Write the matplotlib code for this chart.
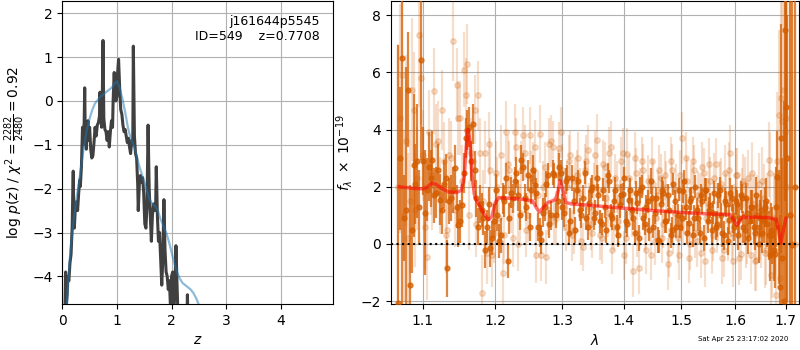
import numpy as np
import matplotlib
matplotlib.use("Agg")
import matplotlib.pyplot as plt
from matplotlib.ticker import NullLocator

# ---------------- data ----------------
# left: redshift probability
pz_z = [0.04, 0.06, 0.07, 0.09, 0.10, 0.12, 0.14, 0.16, 0.18, 0.19,
        0.20, 0.21, 0.22, 0.24, 0.26, 0.28, 0.30, 0.32, 0.33, 0.35,
        0.37, 0.38, 0.40, 0.41, 0.42, 0.44, 0.45, 0.47, 0.48, 0.50,
        0.52, 0.54, 0.56, 0.58, 0.60, 0.62, 0.64, 0.66, 0.68, 0.69,
        0.70, 0.72, 0.73, 0.745, 0.76, 0.78, 0.80, 0.82, 0.84, 0.86,
        0.88, 0.90, 0.92, 0.93, 0.95, 0.96, 0.98, 1.00, 1.01, 1.03,
        1.05, 1.07, 1.09, 1.11, 1.13, 1.15, 1.17, 1.19, 1.21, 1.23,
        1.25, 1.27, 1.29, 1.30, 1.32, 1.34, 1.36, 1.38, 1.39, 1.41,
        1.43, 1.45, 1.47, 1.49, 1.51, 1.53, 1.55, 1.57, 1.59, 1.61,
        1.63, 1.65, 1.67, 1.69, 1.71, 1.72, 1.74, 1.76, 1.78, 1.80,
        1.82, 1.84, 1.86, 1.88, 1.90, 1.92, 1.94, 1.96, 1.98, 2.00,
        2.02, 2.04, 2.06, 2.08, 2.10, 2.12, 2.20, 2.28, 2.29, 2.30,
        2.40, 2.60, 3.00, 4.00, 4.96]
pz_logp = [-5.5, -3.9, -4.7, -4.4, -4.0, -4.1, -3.7, -3.5, -2.9, -2.2,
           -1.6, -2.5, -2.9, -2.4, -2.3, -2.5, -2.1, -1.8, -1.95, -1.5,
           -0.6, -1.0, -0.5, 0.3, -0.8, -1.1, -0.7, -0.45, -0.9, -0.6,
           -1.1, -1.3, -1.25, -0.95, -0.6, -0.8, -0.55, -0.5, -0.35, 0.2,
           -0.2, -0.6, -0.1, 1.38, -0.4, -0.65, -0.7, -0.9, -0.7, -1.05,
           -0.7, -0.45, -0.6, 0.0, 0.65, 0.3, 0.0, 0.1, 0.6, 0.95,
           0.3, -0.2, -0.3, -0.55, -0.7, -0.65, -0.8, -0.95, -0.85, -1.05,
           -1.2, -0.9, -1.0, 1.25, -0.8, -1.2, -1.3, -1.9, -2.5, -1.9,
           -1.7, -1.85, -1.75, -2.1, -2.8, -2.9, -2.4, -0.55, -2.0, -2.6,
           -3.2, -2.6, -2.35, -2.5, -2.3, -1.5, -2.6, -3.2, -3.0, -3.6,
           -4.2, -3.6, -2.25, -3.4, -3.9, -4.0, -4.3, -4.1, -4.7, -4.0,
           -3.9, -4.8, -4.4, -3.3, -4.2, -5.0, -6.0, -5.0, -4.42, -5.0,
           -6.5, -7.5, -9.0, -12.0, -14.0]

smooth_z = [0.07, 0.10, 0.15, 0.20, 0.25, 0.30, 0.35, 0.40, 0.45, 0.50,
            0.55, 0.60, 0.70, 0.80, 0.90, 0.95, 1.00, 1.05, 1.10, 1.15,
            1.20, 1.25, 1.30, 1.35, 1.40, 1.45, 1.50, 1.55, 1.60, 1.65,
            1.70, 1.75, 1.80, 1.85, 1.90, 1.95, 2.00, 2.05, 2.10, 2.15,
            2.20, 2.25, 2.30, 2.35, 2.40, 2.45, 2.50, 2.60, 2.80]
smooth_logp = [-5.0, -4.3, -3.4, -2.8, -2.3, -1.9, -1.45, -1.0, -0.65, -0.4,
               -0.2, -0.05, 0.1, 0.2, 0.3, 0.38, 0.45, 0.3, 0.05, -0.25,
               -0.6, -0.85, -1.0, -1.2, -1.45, -1.65, -1.85, -2.05, -2.25, -2.35,
               -2.4, -2.5, -2.7, -2.85, -3.0, -3.2, -3.45, -3.7, -3.9, -4.05,
               -4.15, -4.2, -4.25, -4.3, -4.38, -4.5, -4.65, -5.0, -5.8]

# right: spectrum wavelength grids (two interleaved beams)
wave_a = [1.068, 1.073, 1.078, 1.083, 1.088, 1.093, 1.098, 1.103, 1.108, 1.113,
          1.118, 1.123, 1.128, 1.133, 1.138, 1.143, 1.148, 1.153, 1.158, 1.163,
          1.168, 1.173, 1.178, 1.183, 1.188, 1.193, 1.198, 1.203, 1.208, 1.213,
          1.218, 1.223, 1.228, 1.233, 1.238, 1.243, 1.248, 1.253, 1.258, 1.263,
          1.268, 1.273, 1.278, 1.283, 1.288, 1.293, 1.298, 1.303, 1.308, 1.313,
          1.318, 1.323, 1.328, 1.333, 1.338, 1.343, 1.348, 1.353, 1.358, 1.363,
          1.368, 1.373, 1.378, 1.383, 1.388, 1.393, 1.398, 1.403, 1.408, 1.413,
          1.418, 1.423, 1.428, 1.433, 1.438, 1.443, 1.448, 1.453, 1.458, 1.463,
          1.468, 1.473, 1.478, 1.483, 1.488, 1.493, 1.498, 1.503, 1.508, 1.513,
          1.518, 1.523, 1.528, 1.533, 1.538, 1.543, 1.548, 1.553, 1.558, 1.563,
          1.568, 1.573, 1.578, 1.583, 1.588, 1.593, 1.598, 1.603, 1.608, 1.613,
          1.618, 1.623, 1.628, 1.633, 1.638, 1.643, 1.648, 1.653, 1.658, 1.663,
          1.668, 1.673, 1.678, 1.683, 1.688, 1.693, 1.698, 1.703, 1.708, 1.713,
          1.718]
wave_b = [1.0705, 1.0755, 1.0805, 1.0855, 1.0905, 1.0955, 1.1005, 1.1055, 1.1105, 1.1155,
          1.1205, 1.1255, 1.1305, 1.1355, 1.1405, 1.1455, 1.1505, 1.1555, 1.1605, 1.1655,
          1.1705, 1.1755, 1.1805, 1.1855, 1.1905, 1.1955, 1.2005, 1.2055, 1.2105, 1.2155,
          1.2205, 1.2255, 1.2305, 1.2355, 1.2405, 1.2455, 1.2505, 1.2555, 1.2605, 1.2655,
          1.2705, 1.2755, 1.2805, 1.2855, 1.2905, 1.2955, 1.3005, 1.3055, 1.3105, 1.3155,
          1.3205, 1.3255, 1.3305, 1.3355, 1.3405, 1.3455, 1.3505, 1.3555, 1.3605, 1.3655,
          1.3705, 1.3755, 1.3805, 1.3855, 1.3905, 1.3955, 1.4005, 1.4055, 1.4105, 1.4155,
          1.4205, 1.4255, 1.4305, 1.4355, 1.4405, 1.4455, 1.4505, 1.4555, 1.4605, 1.4655,
          1.4705, 1.4755, 1.4805, 1.4855, 1.4905, 1.4955, 1.5005, 1.5055, 1.5105, 1.5155,
          1.5205, 1.5255, 1.5305, 1.5355, 1.5405, 1.5455, 1.5505, 1.5555, 1.5605, 1.5655,
          1.5705, 1.5755, 1.5805, 1.5855, 1.5905, 1.5955, 1.6005, 1.6055, 1.6105, 1.6155,
          1.6205, 1.6255, 1.6305, 1.6355, 1.6405, 1.6455, 1.6505, 1.6555, 1.6605, 1.6655,
          1.6705, 1.6755, 1.6805, 1.6855, 1.6905, 1.6955, 1.7005]

# binned (dark) points on grid a
flux_dark_a = [-2.05, 6.5, 1.2, -1.45, 2.75, 2.9, 6.45, 1.1, 2.7, 2.95,
               1.8, 1.55, 2.1, -0.85, 1.6, 2.65, 0.65, 1.35, 3.7, 4.1,
               4.2, 1.6, 1.4, 0.9, 0.6, -0.15, 0.8, 1.0, 0.3, 1.5,
               -0.6, 1.8, 2.2, 1.7, 2.95, 1.6, 2.4, 1.9, 2.05, 0.6,
               0.15, 1.3, 2.4, 1.0, 2.4, 1.5, 2.5, 1.1, 2.3, 0.8,
               1.5, 1.9, 1.2, 1.6, 0.9, 1.45, 2.0, 1.1, 1.7, 0.7,
               1.3, 2.4, 1.0, 1.5, 0.6, 1.35, 1.75, 0.8, 1.55, 1.2,
               0.4, 1.45, 1.9, 0.9, 1.3, 0.5, 1.6, 1.1, 0.15, 1.4,
               1.8, 0.8, 1.2, 0.5, 1.5, 1.0, 0.6, 1.85, 1.3, 0.75,
               1.6, 0.9, 1.2, 0.4, 1.5, 1.9, 0.8, 1.35, 1.1, 0.6,
               1.7, 1.0, 0.3, 1.4, 0.85, 1.6, 0.6, 1.4, 0.9, 1.6,
               0.5, 1.1, 0.8, 1.3, 0.4, 1.0, 0.9, 0.4, 1.3, 0.7,
               -0.4, 0.3, -0.35, 2.35, -1.5, -0.5, 7.5, 3.0, 1.0, -0.05,
               2.0]
err_dark_a = [9.0, 9.0, 5.0, 3.5, 2.5, 2.0, 3.5, 2.2, 1.2, 1.0,
              0.9, 0.9, 0.85, 1.0, 0.8, 0.8, 0.75, 0.75, 0.7, 0.7,
              0.7, 0.65, 0.65, 0.6, 0.6, 0.65, 0.6, 0.55, 0.6, 0.55,
              0.6, 0.55, 0.5, 0.55, 0.5, 0.5, 0.55, 0.5, 0.5, 0.5,
              0.5, 0.5, 0.45, 0.5, 0.45, 0.5, 0.45, 0.5, 0.45, 0.45,
              0.45, 0.45, 0.4, 0.45, 0.4, 0.45, 0.4, 0.45, 0.4, 0.4,
              0.4, 0.45, 0.4, 0.4, 0.4, 0.45, 0.4, 0.4, 0.4, 0.4,
              0.4, 0.4, 0.45, 0.4, 0.4, 0.4, 0.4, 0.4, 0.45, 0.4,
              0.4, 0.4, 0.4, 0.45, 0.4, 0.4, 0.4, 0.4, 0.45, 0.4,
              0.4, 0.45, 0.4, 0.4, 0.45, 0.4, 0.4, 0.45, 0.4, 0.45,
              0.45, 0.45, 0.5, 0.45, 0.5, 0.45, 0.5, 0.5, 0.5, 0.5,
              0.55, 0.5, 0.55, 0.6, 0.6, 0.6, 0.65, 0.7, 0.7, 0.8,
              0.9, 1.0, 1.2, 1.6, 2.5, 3.5, 6.0, 5.0, 8.0, 9.0,
              9.0]

# binned (dark) points on grid b
flux_dark_b = [3.0, 0.9, 5.4, 0.5, 2.1, 1.3, 2.9, 1.9, 2.3, 1.7,
               2.6, 1.2, 2.3, 1.5, 1.9, 1.3, 0.8, 2.5, 4.0, 2.9,
               2.6, 0.6, 1.2, -0.2, 1.4, 0.2, 1.9, 0.1, 1.6, 2.3,
               0.9, 1.6, 2.5, 1.0, 2.7, 1.3, 0.6, 2.6, 1.8, 0.4,
               1.1, 2.1, 0.7, 2.5, 1.0, 2.7, 1.3, 2.2, 0.4, 2.3,
               0.5, 2.2, 1.0, 2.5, 0.6, 1.9, 0.9, 2.3, 0.8, 1.9,
               0.5, 2.2, 0.9, 1.9, 0.3, 1.7, 2.3, 0.7, 1.9, 0.9,
               1.8, 0.2, 2.0, 0.7, 1.5, 2.2, 0.6, 1.6, 0.1, 1.9,
               0.8, 1.7, 0.3, 2.1, 0.6, 1.9, 0.9, 2.2, 0.4, 1.5,
               0.3, 2.0, 0.9, 1.7, 0.2, 1.9, 1.2, 0.5, 1.8, 0.7,
               1.9, 0.4, 1.5, 0.1, 1.8, 0.9, 1.5, 0.3, 1.7, 0.6,
               1.6, 0.2, 1.3, 0.6, 1.7, 0.0, 1.2, 0.8, 1.5, 0.3,
               0.5, -0.2, 1.3, 0.6, 3.7, -2.0, 4.8]
err_dark_b = [2.5, 1.5, 2.0, 1.5, 1.4, 1.3, 1.2, 1.1, 1.0, 0.95,
              0.9, 0.85, 0.85, 0.8, 0.8, 0.75, 0.75, 0.7, 0.7, 0.7,
              0.65, 0.65, 0.6, 0.65, 0.6, 0.6, 0.55, 0.6, 0.55, 0.55,
              0.55, 0.5, 0.55, 0.5, 0.5, 0.5, 0.5, 0.5, 0.5, 0.5,
              0.5, 0.45, 0.5, 0.45, 0.45, 0.5, 0.45, 0.45, 0.45, 0.45,
              0.45, 0.4, 0.45, 0.4, 0.45, 0.4, 0.4, 0.45, 0.4, 0.4,
              0.45, 0.4, 0.4, 0.45, 0.4, 0.4, 0.4, 0.45, 0.4, 0.4,
              0.4, 0.45, 0.4, 0.4, 0.4, 0.45, 0.4, 0.4, 0.4, 0.45,
              0.4, 0.4, 0.45, 0.4, 0.4, 0.4, 0.45, 0.4, 0.4, 0.45,
              0.4, 0.4, 0.45, 0.4, 0.45, 0.4, 0.45, 0.45, 0.4, 0.45,
              0.45, 0.5, 0.45, 0.5, 0.5, 0.5, 0.5, 0.5, 0.5, 0.55,
              0.55, 0.55, 0.6, 0.6, 0.65, 0.65, 0.7, 0.75, 0.8, 0.85,
              0.95, 1.1, 1.4, 2.0, 4.0, 7.0, 8.0]

# unbinned (light) points on grid b
flux_light_b = [4.4, 1.0, 0.2, 5.4, 1.2, 7.3, 3.1, -0.45, 2.4, 5.35,
                3.6, 4.7, 0.3, 3.1, 7.1, 5.55, 4.4, 6.1, 6.3, 3.2,
                4.7, 5.2, -1.7, 3.2, 3.5, -0.4, 2.5, 0.9, -1.0, 3.9,
                2.6, 0.2, 3.4, 1.1, 3.8, 0.5, 3.8, 2.6, -0.4, 3.85,
                2.0, -0.45, 3.5, 3.4, 0.9, 3.35, 2.6, 0.6, 2.9, 0.3,
                2.2, 3.0, 0.1, 2.6, 3.3, 0.7, 2.0, 3.65, 0.3, 2.8,
                1.6, 3.2, -0.2, 2.3, 0.8, 2.9, -0.4, 3.15, 1.5, -0.95,
                2.5, -0.85, 2.9, 0.6, 2.2, -0.4, 2.1, 0.9, 2.6, 0.2,
                2.4, -0.7, 2.9, 0.5, 1.9, -0.4, 3.7, 1.2, 2.2, 0.0,
                2.9, 0.4, 1.7, -0.3, 2.5, 0.9, 2.8, -0.2, 2.3, 0.6,
                2.0, -0.5, 2.5, 0.3, 3.2, -0.6, 2.4, 0.8, -0.35, 2.2,
                0.1, 2.3, -0.4, 1.4, -0.55, 2.1, 0.3, 1.6, -0.2, 2.95,
                -1.1, 0.9, -1.8, 4.5, 5.1, 5.4, 4.4]
err_light_b = [4.0, 3.0, 3.0, 2.5, 2.0, 2.5, 1.6, 1.5, 1.4, 1.5,
               1.4, 1.4, 1.3, 1.3, 1.4, 1.3, 1.3, 1.3, 1.4, 1.2,
               1.2, 1.2, 1.3, 1.1, 1.1, 1.1, 1.1, 1.0, 1.1, 1.1,
               1.0, 1.0, 1.0, 1.0, 1.0, 0.95, 1.0, 0.95, 0.95, 1.0,
               0.9, 0.95, 0.9, 0.9, 0.95, 0.9, 0.9, 0.85, 0.9, 0.9,
               0.85, 0.9, 0.85, 0.9, 0.85, 0.9, 0.85, 0.9, 0.85, 0.85,
               0.85, 0.9, 0.85, 0.85, 0.9, 0.85, 0.85, 0.9, 0.85, 0.9,
               0.85, 0.9, 0.85, 0.85, 0.9, 0.85, 0.85, 0.9, 0.85, 0.85,
               0.85, 0.9, 0.85, 0.85, 0.9, 0.85, 0.9, 0.85, 0.85, 0.9,
               0.85, 0.9, 0.85, 0.9, 0.85, 0.9, 0.9, 0.85, 0.9, 0.9,
               0.9, 0.9, 0.95, 0.9, 0.95, 0.9, 0.95, 0.95, 0.9, 0.95,
               0.95, 1.0, 1.0, 1.05, 1.1, 1.1, 1.15, 1.2, 1.25, 1.3,
               1.4, 1.6, 2.0, 3.0, 4.0, 5.0, 5.0]

# unbinned (light) points on grid a
flux_light_a = [2.0, 5.9, 3.6, 1.5, 4.7, 2.3, 5.8, 0.6, 3.9, 1.9,
                3.5, 1.7, 2.9, 0.5, 3.0, 1.2, 4.4, 2.2, 5.2, 1.0,
                2.9, 0.7, 3.2, 1.5, -0.3, 2.6, 0.4, 2.0, 3.1, 0.3,
                2.8, 1.4, 3.9, 0.0, 2.6, 3.2, 1.0, 2.3, 3.4, 1.7,
                -0.4, 2.7, 1.2, 3.6, 0.8, 2.4, 3.9, 1.3, 2.0, 3.1,
                0.5, 2.4, 1.8, -0.1, 2.9, 1.3, 0.4, 3.1, 1.9, 0.2,
                2.7, 1.1, 3.4, 0.6, 2.0, 1.4, 3.2, 0.2, 2.3, 1.1,
                3.0, 0.4, 1.8, 2.6, -0.2, 1.5, 2.9, 0.1, 1.7, 2.3,
                0.7, 2.0, -0.3, 2.6, 1.1, 0.2, 2.4, 0.9, 3.0, -0.5,
                1.9, 2.6, 0.1, 1.6, 2.7, -0.6, 1.4, 2.2, 0.3, 2.8,
                1.0, 2.1, -0.2, 1.6, 2.6, 0.4, 1.2, 2.4, -0.5, 1.7,
                2.1, 0.3, 1.5, 2.5, -0.6, 1.3, 0.6, 2.2, -0.3, 1.2,
                2.5, -0.4, 0.7, 2.9, -1.2, 4.3, 3.9, 2.0, 1.0, 0.0,
                0.0]
err_light_a = [5.0, 4.0, 3.0, 2.5, 2.0, 1.8, 1.6, 1.5, 1.5, 1.4,
               1.4, 1.35, 1.35, 1.3, 1.3, 1.3, 1.3, 1.25, 1.3, 1.2,
               1.2, 1.15, 1.2, 1.1, 1.1, 1.1, 1.05, 1.05, 1.05, 1.0,
               1.0, 1.0, 1.0, 0.95, 1.0, 0.95, 0.95, 0.95, 0.95, 0.9,
               0.9, 0.85, 0.9, 0.9, 0.85, 0.9, 0.9, 0.85, 0.9, 0.85,
               0.85, 0.9, 0.85, 0.85, 0.9, 0.85, 0.9, 0.85, 0.85, 0.9,
               0.85, 0.85, 0.9, 0.85, 0.9, 0.85, 0.85, 0.9, 0.85, 0.85,
               0.9, 0.85, 0.85, 0.9, 0.85, 0.9, 0.85, 0.85, 0.9, 0.85,
               0.85, 0.9, 0.85, 0.9, 0.85, 0.85, 0.9, 0.85, 0.9, 0.85,
               0.9, 0.85, 0.9, 0.9, 0.85, 0.9, 0.9, 0.85, 0.9, 0.9,
               0.9, 0.9, 0.95, 0.9, 0.95, 0.95, 0.9, 0.95, 0.95, 0.95,
               0.95, 1.0, 1.0, 1.05, 1.05, 1.1, 1.15, 1.2, 1.25, 1.3,
               1.4, 1.5, 1.8, 2.4, 3.5, 5.0, 6.0, 8.0, 8.0, 8.0,
               8.0]

# right: model
wave_model = [1.070, 1.080, 1.090, 1.100, 1.105, 1.112, 1.118, 1.125, 1.135, 1.145,
              1.152, 1.156, 1.159, 1.1615, 1.164, 1.167, 1.171, 1.177, 1.184, 1.190,
              1.195, 1.200, 1.205, 1.220, 1.240, 1.255, 1.261, 1.265, 1.270, 1.278,
              1.290, 1.294, 1.297, 1.301, 1.306, 1.315, 1.350, 1.400, 1.450, 1.500,
              1.550, 1.590, 1.597, 1.603, 1.609, 1.615, 1.620, 1.640, 1.665, 1.681,
              1.686, 1.690, 1.694, 1.700]
flux_model = [2.00, 1.97, 1.94, 1.93, 1.97, 2.13, 2.08, 1.95, 1.82, 1.80,
              1.87, 2.3, 3.4, 4.0, 3.6, 2.4, 1.65, 1.35, 1.05, 0.85,
              0.95, 1.45, 1.62, 1.60, 1.56, 1.50, 1.25, 1.12, 1.25, 1.45,
              1.55, 1.85, 2.22, 1.9, 1.45, 1.40, 1.34, 1.25, 1.17, 1.10,
              1.05, 1.03, 0.85, 0.65, 0.82, 0.97, 0.92, 0.94, 0.92, 0.86,
              0.35, 0.03, 0.4, 0.9]

zlim = [0, 4.96]
pz_ylim = [-4.63, 2.28]
wlim = [1.059, 1.727]
f_ylim = [-2.1, 8.5]
wave_ticks = [1.1, 1.2, 1.3, 1.4, 1.5, 1.6, 1.7]
target_text = "j161644p5545\nID=549    z=0.7708"
stamp = "Sat Apr 25 23:17:02 2020"

# ---------------- plot ----------------
color_grism = (0.8352941176470589, 0.3686274509803922, 0.0)

fig = plt.figure(figsize=(8, 3.5), dpi=100)
ax1 = fig.add_axes([62.3 / 800, 46 / 350, 271 / 800, 303 / 350])
ax2 = fig.add_axes([391 / 800, 46 / 350, 408 / 800, 303 / 350])

ax1.plot(pz_z, pz_logp, color='0.25', lw=2.2, zorder=3)
ax1.plot(smooth_z, smooth_logp, color='#1f77b4', alpha=0.5, lw=1.6, zorder=4)
ax1.set_xlim(zlim)
ax1.set_ylim(pz_ylim)
ax1.set_xticks([0, 1, 2, 3, 4])
ax1.set_yticks([-4, -3, -2, -1, 0, 1, 2])
ax1.grid(True)
ax1.set_axisbelow(True)
ax1.set_xlabel(r'$z$')
ax1.set_ylabel(r'log $p(z)$ / $\chi^2=\frac{2282}{2480}=0.92$')
ax1.text(0.95, 0.955, target_text, transform=ax1.transAxes, ha='right', va='top',
         fontsize=9, multialignment='right')

for w, f, e in [(wave_b, flux_light_b, err_light_b), (wave_a, flux_light_a, err_light_a)]:
    ax2.errorbar(w, f, yerr=e, color=color_grism, alpha=0.2,
                 marker='o', ms=4, linestyle='none', elinewidth=1.6, capsize=0, zorder=2)
for w, f, e in [(wave_a, flux_dark_a, err_dark_a), (wave_b, flux_dark_b, err_dark_b)]:
    ax2.errorbar(w, f, yerr=e, color=color_grism, alpha=0.75,
                 marker='o', ms=3.5, linestyle='none', elinewidth=1.6, capsize=0, zorder=3)
ax2.plot(wave_model, flux_model, color='r', alpha=0.55, lw=2.5, zorder=5)
ax2.axhline(0, color='k', linestyle=':', lw=1.5, zorder=6)
ax2.set_xscale('log')
ax2.set_xlim(wlim)
ax2.set_ylim(f_ylim)
ax2.set_xticks(wave_ticks)
ax2.set_xticklabels([f'{t:.1f}' for t in wave_ticks])
ax2.xaxis.set_minor_locator(NullLocator())
ax2.set_yticks([-2, 0, 2, 4, 6, 8])
ax2.grid(True)
ax2.set_axisbelow(True)
ax2.set_xlabel(r'$\lambda$')
ax2.set_ylabel(r'$f_\lambda\ \times\ 10^{-19}$')

fig.text(0.985, 0.031, stamp, ha='right', va='center', fontsize=5)

fig.savefig('out.png', dpi=100)
